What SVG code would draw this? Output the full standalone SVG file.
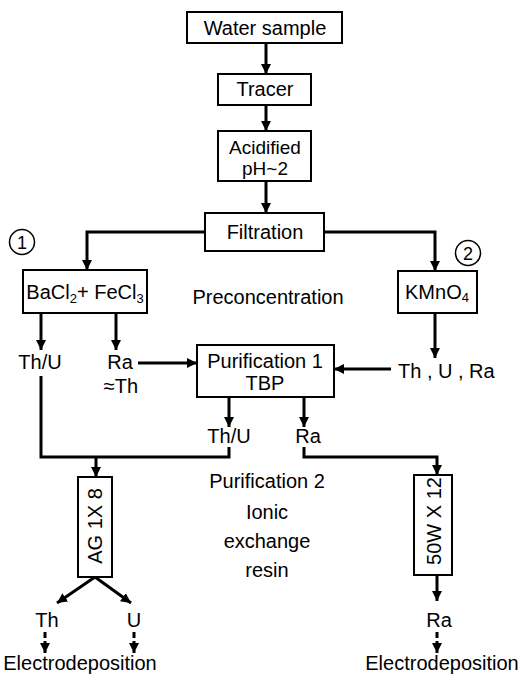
<svg xmlns="http://www.w3.org/2000/svg" width="525" height="676" viewBox="0 0 525 676">
<style>
text{font-family:"Liberation Sans",Arial,sans-serif;font-size:20px;fill:#000;text-anchor:middle}
.box{fill:#fff;stroke:#000;stroke-width:2}
.c{fill:none;stroke:#000;stroke-width:3}
.d{stroke-dasharray:6 3}
.sub{font-size:13px}
</style>
<defs>
<marker id="ah" viewBox="0 0 10 10" refX="10" refY="5" markerWidth="10" markerHeight="10" markerUnits="userSpaceOnUse" orient="auto">
<path d="M0,0 L10,5 L0,10 Z" fill="#000"/>
</marker>
</defs>
<g id="connectors">
<line class="c" x1="266" y1="43" x2="266" y2="74" marker-end="url(#ah)"/>
<line class="c" x1="266" y1="105" x2="266" y2="131" marker-end="url(#ah)"/>
<line class="c" x1="266" y1="181" x2="266" y2="213" marker-end="url(#ah)"/>
<path class="c" d="M205,232 H87 V270" marker-end="url(#ah)"/>
<path class="c" d="M324,232 H435 V271" marker-end="url(#ah)"/>
<line class="c" x1="41" y1="313" x2="41" y2="350" marker-end="url(#ah)"/>
<line class="c" x1="116" y1="313" x2="116" y2="350" marker-end="url(#ah)"/>
<line class="c" x1="138" y1="363" x2="197" y2="363" marker-end="url(#ah)"/>
<line class="c" x1="435" y1="313" x2="435" y2="358" marker-end="url(#ah)"/>
<line class="c" x1="391" y1="369" x2="334" y2="369" marker-end="url(#ah)"/>
<line class="c" x1="229" y1="397" x2="229" y2="427" marker-end="url(#ah)"/>
<line class="c" x1="304" y1="397" x2="304" y2="427" marker-end="url(#ah)"/>
<path class="c" d="M41,376 V457 H229 V447"/>
<line class="c" x1="96" y1="457" x2="96" y2="477" marker-end="url(#ah)"/>
<path class="c" d="M304,447 V457 H437 V475" marker-end="url(#ah)"/>
<line class="c" x1="95" y1="577" x2="57" y2="603" marker-end="url(#ah)"/>
<line class="c" x1="95" y1="577" x2="131" y2="603" marker-end="url(#ah)"/>
<line class="c d" x1="45" y1="632" x2="45" y2="653" marker-end="url(#ah)"/>
<line class="c d" x1="134" y1="632" x2="134" y2="653" marker-end="url(#ah)"/>
<line class="c" x1="437" y1="575" x2="437" y2="601" marker-end="url(#ah)"/>
<line class="c d" x1="437" y1="632" x2="437" y2="653" marker-end="url(#ah)"/>
</g>
<g id="water"><rect class="box" x="187" y="12" width="155" height="31"/><text x="265" y="35">Water sample</text></g>
<g id="tracer"><rect class="box" x="218" y="74" width="93" height="31"/><text x="265" y="96">Tracer</text></g>
<g id="acidified"><rect class="box" x="218" y="131" width="93" height="50"/><text x="265" y="154" style="font-size:19px">Acidified</text><text x="265" y="175" style="font-size:19px">pH~2</text></g>
<g id="filtration"><rect class="box" x="205" y="213" width="119" height="38"/><text x="265" y="239">Filtration</text></g>
<g id="circle1"><circle cx="22" cy="242" r="12.5" fill="none" stroke="#000" stroke-width="1.5"/><text x="22" y="249" style="font-size:18px">1</text></g>
<g id="circle2"><circle cx="468" cy="253" r="12.5" fill="none" stroke="#000" stroke-width="1.5"/><text x="468" y="260" style="font-size:18px">2</text></g>
<g id="bacl"><rect class="box" x="23" y="270" width="124" height="43"/><text x="85" y="299">BaCl<tspan class="sub" dy="4">2</tspan><tspan dy="-4">+ FeCl</tspan><tspan class="sub" dy="4">3</tspan></text></g>
<g id="kmno"><rect class="box" x="398" y="271" width="79" height="42"/><text x="437" y="299">KMnO<tspan class="sub" dy="3">4</tspan></text></g>
<g id="precon"><text x="268" y="304">Preconcentration</text></g>
<g id="thu1"><text x="40" y="369">Th/U</text></g>
<g id="ra1"><text x="120" y="369">Ra</text><text x="121" y="393">≈Th</text></g>
<g id="thura"><text x="398" y="378" style="text-anchor:start">Th , U , Ra</text></g>
<g id="purif1"><rect class="box" x="197" y="345" width="137" height="52"/><text x="265" y="368">Purification 1</text><text x="265" y="390">TBP</text></g>
<g id="thu2"><text x="229" y="443">Th/U</text></g>
<g id="ra2"><text x="308" y="443">Ra</text></g>
<g id="purif2"><text x="267" y="488">Purification 2</text><text x="267" y="519">Ionic</text><text x="267" y="548">exchange</text><text x="267" y="577">resin</text></g>
<g id="ag"><rect class="box" x="78" y="477" width="34" height="100"/><text transform="translate(95,526) rotate(-90)" dy="7">AG 1X 8</text></g>
<g id="w50"><rect class="box" x="414" y="475" width="38" height="100"/><text transform="translate(434,521) rotate(-90)" dy="7">50W X 12</text></g>
<g id="th"><text x="47" y="627">Th</text></g>
<g id="u"><text x="134" y="627">U</text></g>
<g id="ra3"><text x="439" y="627">Ra</text></g>
<g id="electro1"><text x="80" y="670">Electrodeposition</text></g>
<g id="electro2"><text x="442" y="670">Electrodeposition</text></g>
</svg>
